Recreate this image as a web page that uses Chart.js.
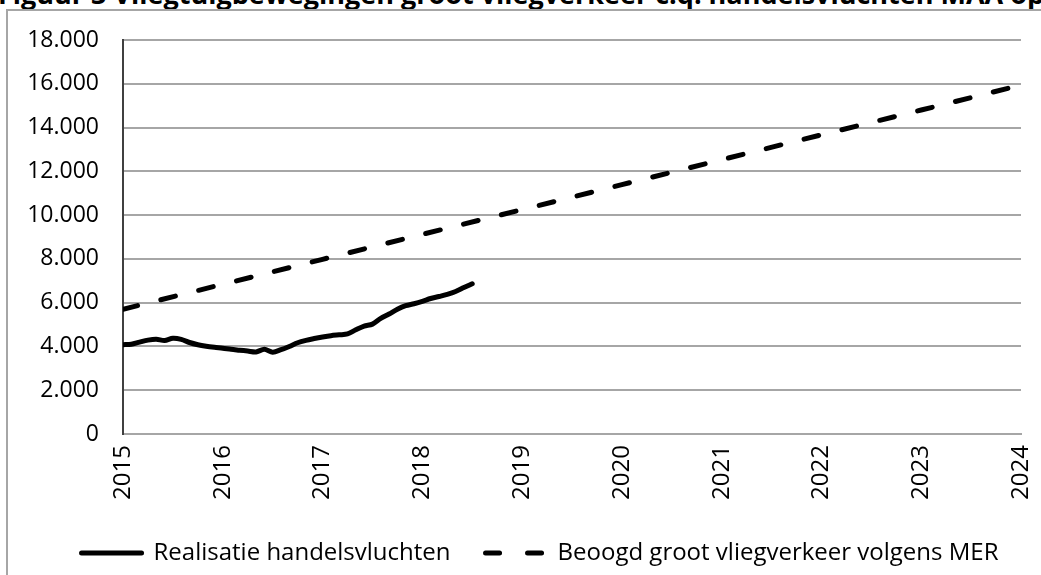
<!DOCTYPE html>
<html>
<head>
<meta charset="utf-8">
<script src="https://cdn.jsdelivr.net/npm/chart.js@4.4.0/dist/chart.umd.min.js"></script>
<style>
  html, body { margin: 0; padding: 0; background: #fff; overflow: hidden; }
  body { width: 1041px; height: 575px; position: relative; }
  #titel { position: absolute; left: -2px; top: -20px; white-space: nowrap;
           font: bold 27px "Open Sans", sans-serif; line-height: 27px; color: #000; }
  #kader { position: absolute; left: 6px; top: 9px; width: 1060px; height: 620px;
           border: 2px solid #a6a6a6; box-sizing: border-box; }
  #wrap { position: absolute; left: 9px; top: 12px; width: 1030px; height: 563px; }
</style>
</head>
<body>
<div id="titel">Figuur 3 Vliegtuigbewegingen groot vliegverkeer c.q. handelsvluchten MAA op</div>
<div id="kader"></div>
<div id="wrap"><canvas id="grafiek"></canvas></div>
<script>
// realisatie handelsvluchten, per maand vanaf januari 2015
var startJaar = 2015;
var realisatie = [4080, 4100, 4200, 4290, 4330, 4270, 4370, 4320, 4180, 4080, 4010, 3960,
                  3920, 3870, 3830, 3790, 3750, 3870, 3740, 3850, 4000, 4170, 4280, 4360,
                  4430, 4490, 4530, 4570, 4760, 4930, 5020, 5280, 5480, 5700, 5860, 5950,
                  6060, 6190, 6280, 6380, 6510, 6690, 6860];

// beoogd groot vliegverkeer volgens MER, per jaar
var merJaren = [2015, 2016, 2017, 2018, 2019, 2020, 2021, 2022, 2023, 2024];
var merWaarden = [5700, 6840, 7980, 9120, 10250, 11390, 12530, 13670, 14800, 15940];

var yTicks = [0, 2000, 4000, 6000, 8000, 10000, 12000, 14000, 16000, 18000];

function puntNotatie(v) {
  return String(v).replace(/\B(?=(\d{3})+(?!\d))/g, '.');
}

var realisatiePunten = [];
for (var i = 0; i < realisatie.length; i++) {
  realisatiePunten.push({ x: startJaar + i / 12, y: realisatie[i] });
}
var merPunten = [];
for (var j = 0; j < merJaren.length; j++) {
  merPunten.push({ x: merJaren[j], y: merWaarden[j] });
}

var familie = '"Open Sans", sans-serif';

// legenda iets naar rechts, zoals in het origineel
var legendaVerschuiving = {
  id: 'legendaVerschuiving',
  afterLayout: function(chart) {
    chart.legend.left += 25;
    chart.legend.right += 25;
  }
};

var ctx = document.getElementById('grafiek').getContext('2d');
var grafiek = new Chart(ctx, {
  type: 'line',
  data: {
    datasets: [{
      label: 'Realisatie handelsvluchten',
      data: realisatiePunten,
      borderColor: '#000',
      backgroundColor: '#000',
      borderWidth: 5,
      borderCapStyle: 'round',
      borderJoinStyle: 'round',
      pointRadius: 0,
      tension: 0.3,
      fill: false
    }, {
      label: 'Beoogd groot vliegverkeer volgens MER',
      data: merPunten,
      borderColor: '#000',
      backgroundColor: '#000',
      borderWidth: 5,
      borderDash: [15, 24],
      borderCapStyle: 'round',
      pointRadius: 0,
      fill: false
    }]
  },
  plugins: [legendaVerschuiving],
  options: {
    responsive: true,
    maintainAspectRatio: false,
    animation: false,
    layout: { padding: { left: 0, right: 18, top: 28, bottom: 0 } },
    scales: {
      x: {
        type: 'linear',
        min: 2015,
        max: 2024,
        afterFit: function(scale) {
          scale.height = 72;
          scale.paddingLeft = 0;
          scale.paddingRight = 0;
        },
        afterBuildTicks: function(scale) {
          scale.ticks = merJaren.map(function(v) { return { value: v }; });
        },
        ticks: {
          color: '#000',
          font: { family: familie, size: 24 },
          minRotation: 90,
          maxRotation: 90,
          padding: 11,
          callback: function(v) { return String(v); }
        },
        grid: { display: false, drawTicks: false },
        border: { display: true, color: '#a6a6a6', width: 2 }
      },
      y: {
        min: 0,
        max: 18000,
        afterFit: function(scale) {
          scale.width = 114;
          scale.paddingTop = 0;
          scale.paddingBottom = 0;
        },
        afterBuildTicks: function(scale) {
          scale.ticks = yTicks.map(function(v) { return { value: v }; });
        },
        ticks: {
          color: '#000',
          font: { family: familie, size: 23 },
          padding: 24,
          callback: function(v) { return puntNotatie(v); }
        },
        grid: { color: '#a6a6a6', lineWidth: 2, drawTicks: false },
        border: { display: true, color: '#404040', width: 2 }
      }
    },
    plugins: {
      title: { display: false },
      tooltip: { enabled: false },
      legend: {
        display: true,
        position: 'bottom',
        labels: {
          color: '#000',
          font: { family: familie, size: 24 },
          usePointStyle: true,
          pointStyleWidth: 60,
          boxHeight: 20,
          padding: 35,
          generateLabels: function(chart) {
            return chart.data.datasets.map(function(ds, k) {
              return {
                text: ds.label,
                datasetIndex: k,
                pointStyle: 'line',
                strokeStyle: '#000',
                fillStyle: '#000',
                lineWidth: 5,
                lineCap: 'round',
                lineDash: k === 1 ? [14, 28] : [],
                fontColor: '#000',
                hidden: false
              };
            });
          }
        }
      }
    }
  }
});
</script>
</body>
</html>
